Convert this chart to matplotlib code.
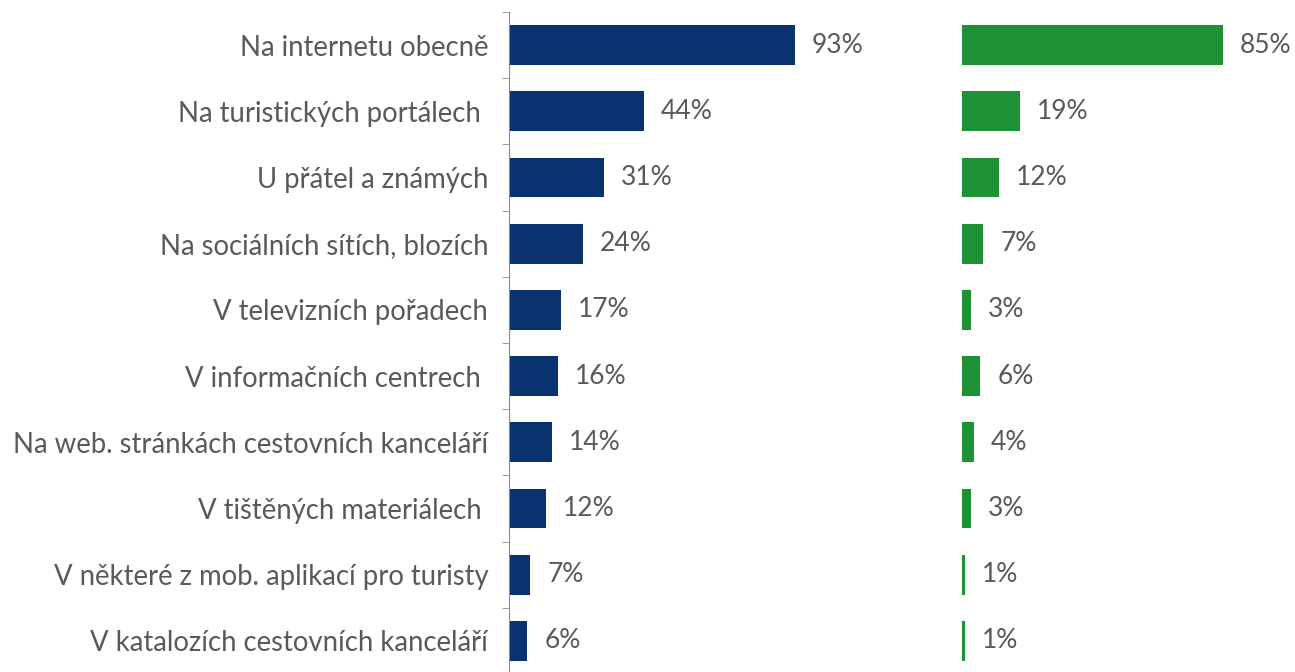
import numpy as np
import matplotlib.pyplot as plt

# Data
kategorie = [
    'Na internetu obecně',
    'Na turistických portálech ',
    'U přátel a známých',
    'Na sociálních sítích, blozích',
    'V televizních pořadech',
    'V informačních centrech ',
    'Na web. stránkách cestovních kanceláří',
    'V tištěných materiálech ',
    'V některé z mob. aplikací pro turisty',
    'V katalozích cestovních kanceláří',
]
hodnoty_modre = [93, 44, 31, 24, 17, 16, 14, 12, 7, 6]
hodnoty_zelene = [85, 19, 12, 7, 3, 6, 4, 3, 1, 1]

modra = '#08336E'
zelena = '#1C9234'
seda = '#595959'

plt.rcParams['font.family'] = ['Lato', 'DejaVu Sans']

W, H = 1295, 672
fig = plt.figure(figsize=(W / 100, H / 100), dpi=100)

# pozice os v pixelech
top_px, bot_px = 12, 674
ax_w = 307
ax1 = fig.add_axes([509 / W, 1 - bot_px / H, ax_w / W, (bot_px - top_px) / H])
ax2 = fig.add_axes([962 / W, 1 - bot_px / H, ax_w / W, (bot_px - top_px) / H])

y = np.arange(len(kategorie))

for ax, vals, col in [(ax1, hodnoty_modre, modra), (ax2, hodnoty_zelene, zelena)]:
    ax.barh(y, vals, height=0.6, color=col)
    ax.set_xlim(0, 100)
    ax.set_ylim(len(kategorie) - 0.5, -0.5)
    ax.set_xticks([])
    for s in ['top', 'right', 'bottom', 'left']:
        ax.spines[s].set_visible(False)
    for yi, v in zip(y, vals):
        ax.text(v + 5.5, yi, f'{v}%', va='center', ha='left', fontsize=19, color=seda)

ax1.spines['left'].set_visible(True)
ax1.spines['left'].set_color('#8C8C8C')
ax1.set_yticks(y)
ax1.set_yticklabels(kategorie, fontsize=19.8, color=seda)
ax1.tick_params(axis='y', which='major', length=0, pad=15)
ax1.set_yticks(np.arange(-0.5, len(kategorie), 1), minor=True)
ax1.tick_params(axis='y', which='minor', length=5, color='#8C8C8C')
ax2.set_yticks([])

fig.savefig('out.png', dpi=100)
